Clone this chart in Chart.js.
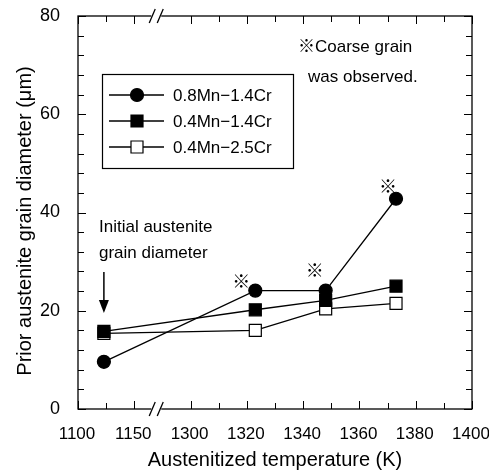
<!DOCTYPE html>
<html>
<head>
<meta charset="utf-8">
<script src="https://cdn.jsdelivr.net/npm/chart.js@4/dist/chart.umd.min.js"></script>
<style>
  body { margin: 0; background: #fff; }
  canvas { display: block; }
</style>
</head>
<body>
<canvas id="grainChart" width="489" height="474"></canvas>
<script>
// values
const xTickLabels = [1100, 1150, 1300, 1320, 1340, 1360, 1380, 1400];
const temperatures = [1123, 1323, 1348, 1373];
const mn08cr14 = [9.6, 24.1, 24.1, 42.8];
const mn04cr14 = [15.8, 20.2, 22.1, 25.0];
const mn04cr25 = [15.4, 16.0, 20.4, 21.5];
const seriesNames = ['0.8Mn\u22121.4Cr', '0.4Mn\u22121.4Cr', '0.4Mn\u22122.5Cr'];
const coarseGrain = [false, true, true, true]; // only 0.8Mn-1.4Cr

const FONT = '"Liberation Sans", Arial, "Noto Sans CJK JP", sans-serif';

// broken axis: each labelled temperature gets an equal slot
function axisPos(t) {
    for (let i = 0; i < xTickLabels.length - 1; i++) {
        const a = xTickLabels[i], b = xTickLabels[i + 1];
        if (t >= a && t <= b) return i + (t - a) / (b - a);
    }
    return null;
}
const toPoints = vals => vals.map((v, i) => ({ x: axisPos(temperatures[i]), y: v }));

function line(ctx, x1, y1, x2, y2) {
    ctx.beginPath();
    ctx.moveTo(x1, y1);
    ctx.lineTo(x2, y2);
    ctx.stroke();
}

function marker(ctx, style, fill, x, y) {
    ctx.fillStyle = fill;
    ctx.beginPath();
    if (style === 'circle') ctx.arc(x, y, 6.5, 0, Math.PI * 2);
    else ctx.rect(x - 6, y - 6, 12, 12);
    ctx.fill();
    ctx.stroke();
}

const framePlugin = {
    id: 'frame',
    afterDraw(chart) {
        const { ctx, chartArea: a, scales: { x, y } } = chart;
        ctx.save();
        ctx.strokeStyle = '#000';
        ctx.lineWidth = 1.3;
        ctx.strokeRect(a.left, a.top, a.right - a.left, a.bottom - a.top);

        // inward ticks
        ctx.lineWidth = 1;
        for (let v = 0; v <= 80; v += 4) {
            const py = Math.round(y.getPixelForValue(v)) + 0.5;
            const len = v % 20 === 0 ? 8 : 6;
            line(ctx, a.left, py, a.left + len, py);
            line(ctx, a.right, py, a.right - len, py);
        }
        for (let i = 0; i <= (xTickLabels.length - 1) * 2; i++) {
            if (i === 3) continue; // the break sits here
            const px = Math.round(x.getPixelForValue(i / 2)) + 0.5;
            const len = i % 2 === 0 ? 8 : 6;
            line(ctx, px, a.bottom, px, a.bottom - len);
            line(ctx, px, a.top, px, a.top + len);
        }

        // axis break //
        const bx = x.getPixelForValue(1.39);
        [a.top, a.bottom].forEach(ay => {
            ctx.fillStyle = '#fff';
            ctx.fillRect(bx - 5, ay - 2, 10, 4);
            ctx.lineWidth = 1.3;
            line(ctx, bx - 7, ay + 7, bx - 1, ay - 7);
            line(ctx, bx + 1, ay + 7, bx + 7, ay - 7);
        });

        // y axis title, a little below the middle as in the original
        ctx.save();
        ctx.fillStyle = '#000';
        ctx.font = '20px ' + FONT;
        ctx.textAlign = 'center';
        ctx.textBaseline = 'middle';
        ctx.translate(25, 221);
        ctx.rotate(-Math.PI / 2);
        ctx.fillText('Prior austenite grain diameter (\u03BCm)', 0, 0);
        ctx.restore();

        // legend box
        ctx.lineWidth = 1.2;
        ctx.strokeRect(102.5, 74.5, 191, 94);
        chart.data.datasets.forEach((ds, i) => {
            const ly = 95 + i * 26;
            ctx.lineWidth = 1.3;
            line(ctx, 109, ly, 164, ly);
            ctx.lineWidth = 1.2;
            marker(ctx, ds.pointStyle, ds.pointBackgroundColor, 137, ly);
            ctx.fillStyle = '#000';
            ctx.font = '17px ' + FONT;
            ctx.textBaseline = 'middle';
            ctx.textAlign = 'left';
            ctx.fillText(ds.label, 173, ly + 1);
        });

        // notes
        ctx.fillStyle = '#000';
        ctx.font = '17px ' + FONT;
        ctx.fillText('\u203BCoarse grain', 298, 47);
        ctx.fillText('was observed.', 308, 77);
        ctx.fillText('Initial austenite', 99, 227);
        ctx.fillText('grain diameter', 99, 253);

        // arrow to the initial grain size
        const ax = x.getPixelForValue(axisPos(temperatures[0]));
        ctx.lineWidth = 1.5;
        line(ctx, ax, 272, ax, 302);
        ctx.beginPath();
        ctx.moveTo(ax - 5, 300);
        ctx.lineTo(ax + 5, 300);
        ctx.lineTo(ax, 313);
        ctx.closePath();
        ctx.fill();

        // coarse grain marks
        const offsets = [null, [-14, -8], [-11, -19], [-8, -11]];
        const meta = chart.getDatasetMeta(0);
        ctx.font = '18px ' + FONT;
        ctx.textAlign = 'center';
        coarseGrain.forEach((flag, i) => {
            if (!flag) return;
            const p = meta.data[i];
            ctx.fillText('\u203B', p.x + offsets[i][0], p.y + offsets[i][1]);
        });
        ctx.restore();
    }
};

Chart.defaults.font.family = FONT;
Chart.defaults.font.size = 18;
Chart.defaults.color = '#000';

const common = {
    borderColor: '#000',
    borderWidth: 1.3,
    pointBorderColor: '#000',
    pointBorderWidth: 1.2,
    tension: 0
};

new Chart(document.getElementById('grainChart'), {
    type: 'line',
    data: {
        datasets: [
            { ...common, label: seriesNames[0], data: toPoints(mn08cr14),
              pointStyle: 'circle', pointRadius: 6.5, pointBackgroundColor: '#000' },
            { ...common, label: seriesNames[1], data: toPoints(mn04cr14),
              pointStyle: 'rect', pointRadius: 8.5, pointBackgroundColor: '#000' },
            { ...common, label: seriesNames[2], data: toPoints(mn04cr25),
              pointStyle: 'rect', pointRadius: 8.5, pointBackgroundColor: '#fff' }
        ]
    },
    options: {
        responsive: false,
        animation: false,
        layout: { padding: { top: 16, right: 17, left: 0, bottom: 0 } },
        plugins: { legend: { display: false }, tooltip: { enabled: false } },
        scales: {
            x: {
                type: 'linear',
                min: 0,
                max: xTickLabels.length - 1,
                grid: { display: false },
                border: { display: false },
                ticks: { stepSize: 1, padding: 7, maxRotation: 0, labelOffset: -1,
                         font: { size: 17 },
                         callback: v => xTickLabels[v] },
                title: { display: true, text: 'Austenitized temperature (K)',
                         font: { size: 20 }, padding: { top: 0, bottom: 2 } },
                afterFit: s => {
                    s.height = 65;
                    s.paddingLeft = 0;
                    s.paddingRight = 0;
                }
            },
            y: {
                min: 0,
                max: 80,
                grid: { display: false },
                border: { display: false },
                ticks: { stepSize: 20, padding: 10 },
                title: { display: false },
                afterFit: s => {
                    s.width = 78;
                    s.paddingTop = 0;
                    s.paddingBottom = 0;
                }
            }
        }
    },
    plugins: [framePlugin]
});
</script>
</body>
</html>
